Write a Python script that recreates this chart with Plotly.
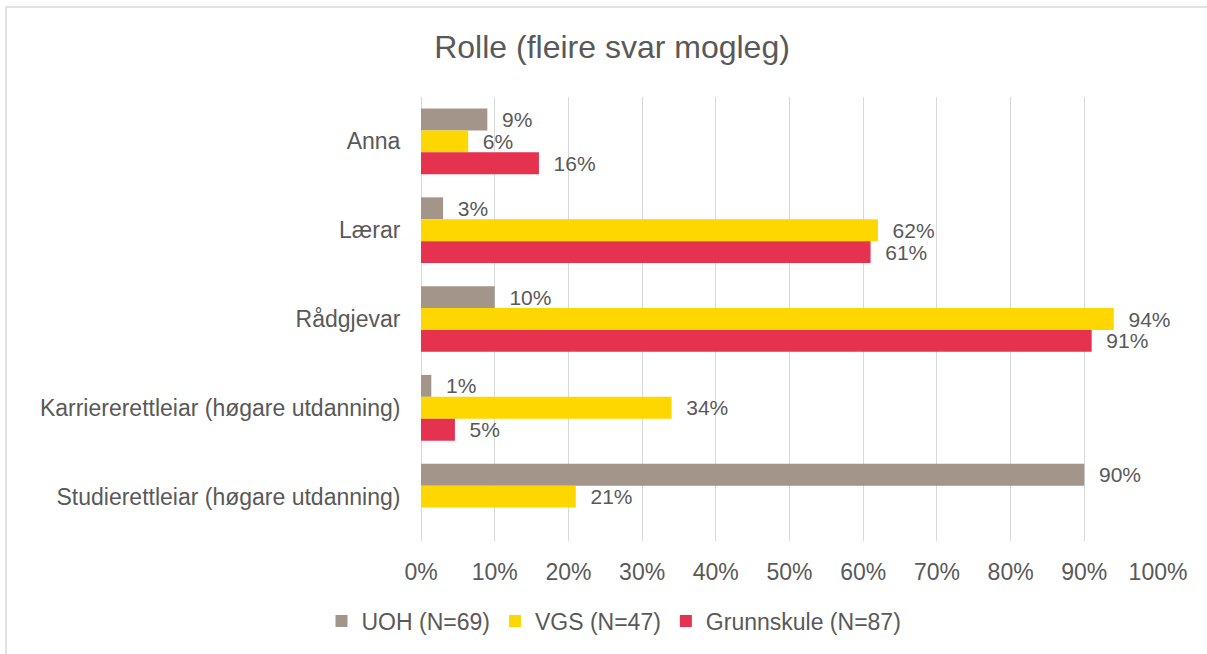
import plotly.graph_objects as go

categories = ["Anna", "Lærar", "Rådgjevar", "Karriererettleiar (høgare utdanning)", "Studierettleiar (høgare utdanning)"]
series_names = ["UOH (N=69)", "VGS (N=47)", "Grunnskule (N=87)"]
uoh = [9, 3, 10, 1.4, 90]
vgs = [6.4, 62, 94, 34, 21]
grunnskule = [16, 61, 91, 4.6, None]
uoh_labels = ["9%", "3%", "10%", "1%", "90%"]
vgs_labels = ["6%", "62%", "94%", "34%", "21%"]
grunn_labels = ["16%", "61%", "91%", "5%", ""]
colors = ["#A39589", "#FFD700", "#E4324F"]
title = "Rolle (fleire svar mogleg)"

TXT = "#595959"
FONT = "Liberation Sans, Arial, sans-serif"
FS = 23
PAD = "\u00a0\u00a0"

fig = go.Figure()
for name, vals, labs, col in zip(series_names, [uoh, vgs, grunnskule],
                                 [uoh_labels, vgs_labels, grunn_labels], colors):
    fig.add_trace(go.Bar(
        y=categories, x=vals, name=name, orientation="h",
        marker=dict(color=col, line=dict(width=0)),
        text=[PAD + t if t else "" for t in labs], textposition="outside", cliponaxis=False,
        constraintext="none",
        textfont=dict(size=21, color=TXT, family=FONT),
        hoverinfo="skip",
    ))

fig.update_layout(
    width=1207, height=654,
    paper_bgcolor="white", plot_bgcolor="white",
    barmode="group", bargap=0.26, bargroupgap=0,
    font=dict(family=FONT, color=TXT, size=FS),
    title=dict(text=title, x=612 / 1207, xref="container", xanchor="center",
               y=1 - 47 / 654, yref="container", yanchor="middle",
               font=dict(size=32, color=TXT, family=FONT)),
    margin=dict(l=421, r=49, t=97, b=113, autoexpand=False),
    showlegend=True,
    legend=dict(orientation="h", x=(614 - 421) / 737, xanchor="center",
                y=-80 / 444, yanchor="middle",
                traceorder="normal", font=dict(size=FS, color=TXT, family=FONT),
                itemwidth=30, tracegroupgap=0),
    uniformtext=dict(mode=False),
)
fig.update_xaxes(
    range=[0, 100], dtick=10, ticksuffix="%",
    showgrid=True, gridcolor="#D9D9D9", gridwidth=1,
    zeroline=True, zerolinecolor="#D9D9D9", zerolinewidth=1,
    showline=False, ticks="outside", ticklen=10, tickcolor="white",
    tickfont=dict(size=FS, color=TXT, family=FONT), fixedrange=True,
)
fig.update_yaxes(
    autorange="reversed", showgrid=False, showline=False,
    ticks="outside", ticklen=15, tickcolor="white",
    tickfont=dict(size=FS, color=TXT, family=FONT), fixedrange=True,
)
fig.add_shape(type="rect", xref="paper", yref="paper",
              x0=(6 - 421) / 737, x1=(1215 - 421) / 737,
              y0=(113 - 660) / 444, y1=(654 - 7 - 113) / 444,
              line=dict(color="#D9D9D9", width=1.5), fillcolor="rgba(0,0,0,0)", layer="below")

fig.write_html("out.html", config={"displayModeBar": False},
               post_script="document.body.style.margin='0';")
